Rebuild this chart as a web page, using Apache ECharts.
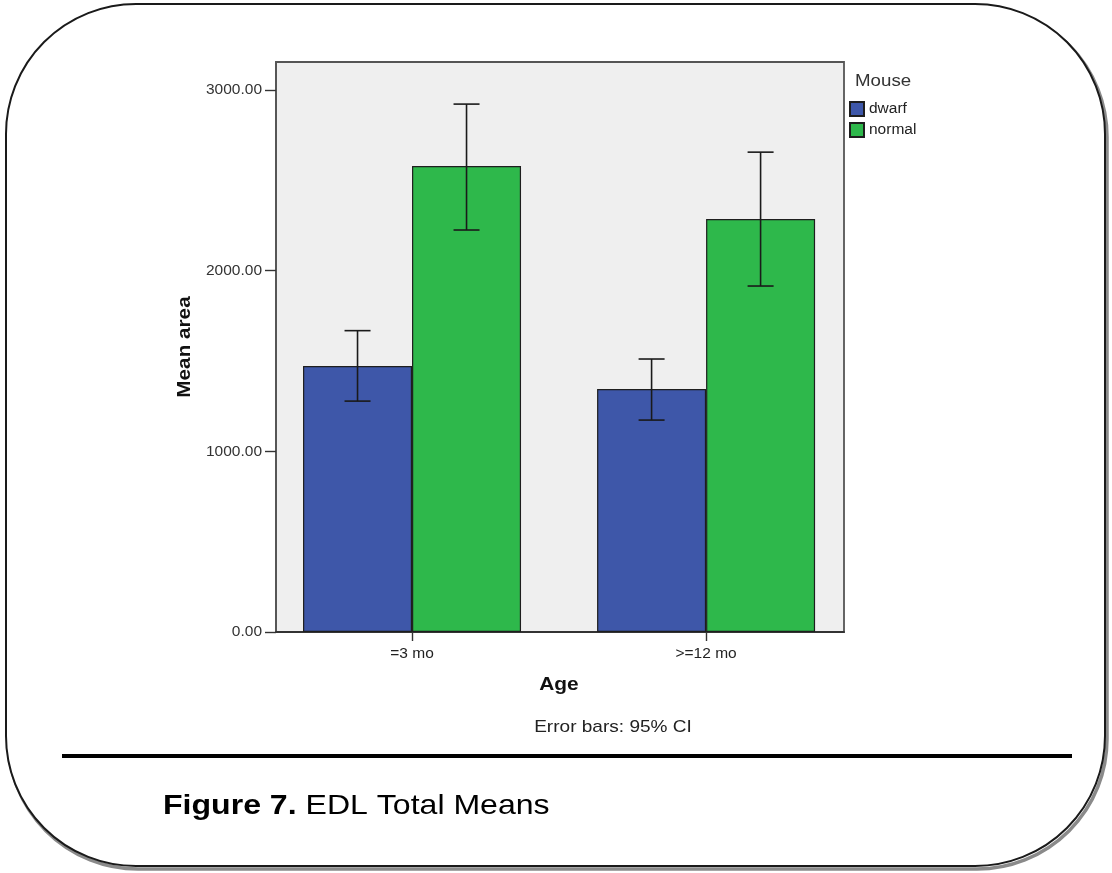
<!DOCTYPE html>
<html>
<head>
<meta charset="utf-8">
<script src="https://cdn.jsdelivr.net/npm/echarts@6/dist/echarts.min.js"></script>
<style>
  html, body { margin: 0; padding: 0; background: #fff; }
  #chart { width: 1112px; height: 873px; }
</style>
</head>
<body>
<div id="chart"></div>
<script>
// Age groups on the x axis
const categories = ['=3 mo', '>=12 mo'];
// Mean EDL area per group
const dwarfMeans = [1472, 1345];
const normalMeans = [2579, 2286];
// 95% confidence interval bounds [low, high]
const dwarfCI = [[1278, 1668], [1173, 1511]];
const normalCI = [[2225, 2922], [1915, 2656]];
// Y axis tick values
const yTicks = [0, 1000, 2000, 3000];
const yMax = 3155;

const FONT = '"Liberation Sans", Arial, sans-serif';
const BLUE = '#3E57A9';
const GREEN = '#2EB84B';
const BAR_W = 109;
const catIdx = categories.map((c, i) => i);

function errorSeries(name, ci, side) {
  return {
    type: 'custom',
    name: name + ' CI',
    z: 5,
    silent: true,
    data: ci.map((d, i) => [i, d[0], d[1]]),
    renderItem: function (params, api) {
      const xc = api.coord([api.value(0), 0])[0] + side * BAR_W / 2;
      const lo = api.coord([api.value(0), api.value(1)])[1];
      const hi = api.coord([api.value(0), api.value(2)])[1];
      const cap = 13;
      const st = { stroke: '#1a1a1a', lineWidth: 1.6 };
      return {
        type: 'group',
        children: [
          { type: 'line', shape: { x1: xc, y1: lo, x2: xc, y2: hi }, style: st },
          { type: 'line', shape: { x1: xc - cap, y1: hi, x2: xc + cap, y2: hi }, style: st },
          { type: 'line', shape: { x1: xc - cap, y1: lo, x2: xc + cap, y2: lo }, style: st }
        ]
      };
    }
  };
}

const chart = echarts.init(document.getElementById('chart'), null, { renderer: 'canvas' });

chart.setOption({
  animation: false,
  backgroundColor: '#ffffff',
  textStyle: { fontFamily: FONT },
  grid: {
    left: 276, right: 268, top: 62, bottom: 241,
    show: true,
    backgroundColor: '#efefef',
    borderColor: '#555555',
    borderWidth: 1.8
  },
  legend: {
    orient: 'vertical',
    left: 849, top: 101, padding: 0,
    itemWidth: 14, itemHeight: 14, itemGap: 5,
    icon: 'rect',
    data: ['dwarf', 'normal'],
    textStyle: { fontFamily: FONT, fontSize: 15.5, color: '#222' }
  },
  xAxis: {
    type: 'value',
    min: -0.4626, max: 1.469,
    splitLine: { show: false },
    axisLine: { onZero: false, lineStyle: { color: '#333', width: 1.8 } },
    axisTick: { customValues: catIdx, length: 9, lineStyle: { color: '#333', width: 1.4 } },
    axisLabel: {
      customValues: catIdx,
      fontFamily: FONT, fontSize: 15.5, color: '#222', margin: 14,
      formatter: v => categories[Math.round(v)]
    }
  },
  yAxis: {
    type: 'value',
    min: 0, max: yMax,
    splitLine: { show: false },
    axisLine: { show: true, onZero: false, lineStyle: { color: '#555', width: 1.8 } },
    axisTick: { show: true, length: 11, customValues: yTicks, lineStyle: { color: '#333', width: 1.4 } },
    axisLabel: {
      customValues: yTicks,
      fontFamily: FONT, fontSize: 15.5, color: '#333', margin: 14,
      formatter: v => v.toFixed(2)
    }
  },
  series: [
    {
      name: 'dwarf', type: 'bar',
      data: dwarfMeans.map((v, i) => [i, v]),
      barWidth: BAR_W, barGap: '0%',
      itemStyle: { color: BLUE, borderColor: '#1e1e1e', borderWidth: 1.2 }
    },
    {
      name: 'normal', type: 'bar',
      data: normalMeans.map((v, i) => [i, v]),
      barWidth: BAR_W, barGap: '0%',
      itemStyle: { color: GREEN, borderColor: '#1e1e1e', borderWidth: 1.2 }
    },
    errorSeries('dwarf', dwarfCI, -1),
    errorSeries('normal', normalCI, 1)
  ],
  graphic: [
    // rounded frame with a soft shadow on the lower right
    { type: 'rect', z: -10, silent: true,
      shape: { x: 8, y: 7, width: 1099, height: 862, r: 130 },
      style: { fill: 'none', stroke: '#8a8a8a', lineWidth: 3.5 } },
    { type: 'rect', z: -9, silent: true,
      shape: { x: 6, y: 4, width: 1099, height: 862, r: 130 },
      style: { fill: '#ffffff', stroke: '#1a1a1a', lineWidth: 2 } },
    // legend heading
    { type: 'text', x: 855, y: 81, scaleX: 1.1, silent: true,
      style: { text: 'Mouse', font: '17px ' + FONT, fill: '#333', textVerticalAlign: 'middle' } },
    // axis titles
    { type: 'text', x: 185, y: 347, rotation: Math.PI / 2, scaleX: 1.09, silent: true,
      style: { text: 'Mean area', font: 'bold 19px ' + FONT, fill: '#111',
               textAlign: 'center', textVerticalAlign: 'middle' } },
    { type: 'text', x: 559, y: 685, scaleX: 1.1, silent: true,
      style: { text: 'Age', font: 'bold 19px ' + FONT, fill: '#111',
               textAlign: 'center', textVerticalAlign: 'middle' } },
    { type: 'text', x: 613, y: 727, scaleX: 1.12, silent: true,
      style: { text: 'Error bars: 95% CI', font: '17px ' + FONT, fill: '#222',
               textAlign: 'center', textVerticalAlign: 'middle' } },
    // separator rule
    { type: 'line', silent: true,
      shape: { x1: 62, y1: 756, x2: 1072, y2: 756 },
      style: { stroke: '#000', lineWidth: 4 } },
    // figure caption
    { type: 'text', x: 163, y: 806, scaleX: 1.145, silent: true,
      style: {
        text: '{b|Figure 7.} EDL Total Means',
        font: '28px ' + FONT, fill: '#000',
        textVerticalAlign: 'middle',
        rich: { b: { fontWeight: 'bold', fontSize: 28, fontFamily: FONT, fill: '#000' } }
      } }
  ]
});
</script>
</body>
</html>
